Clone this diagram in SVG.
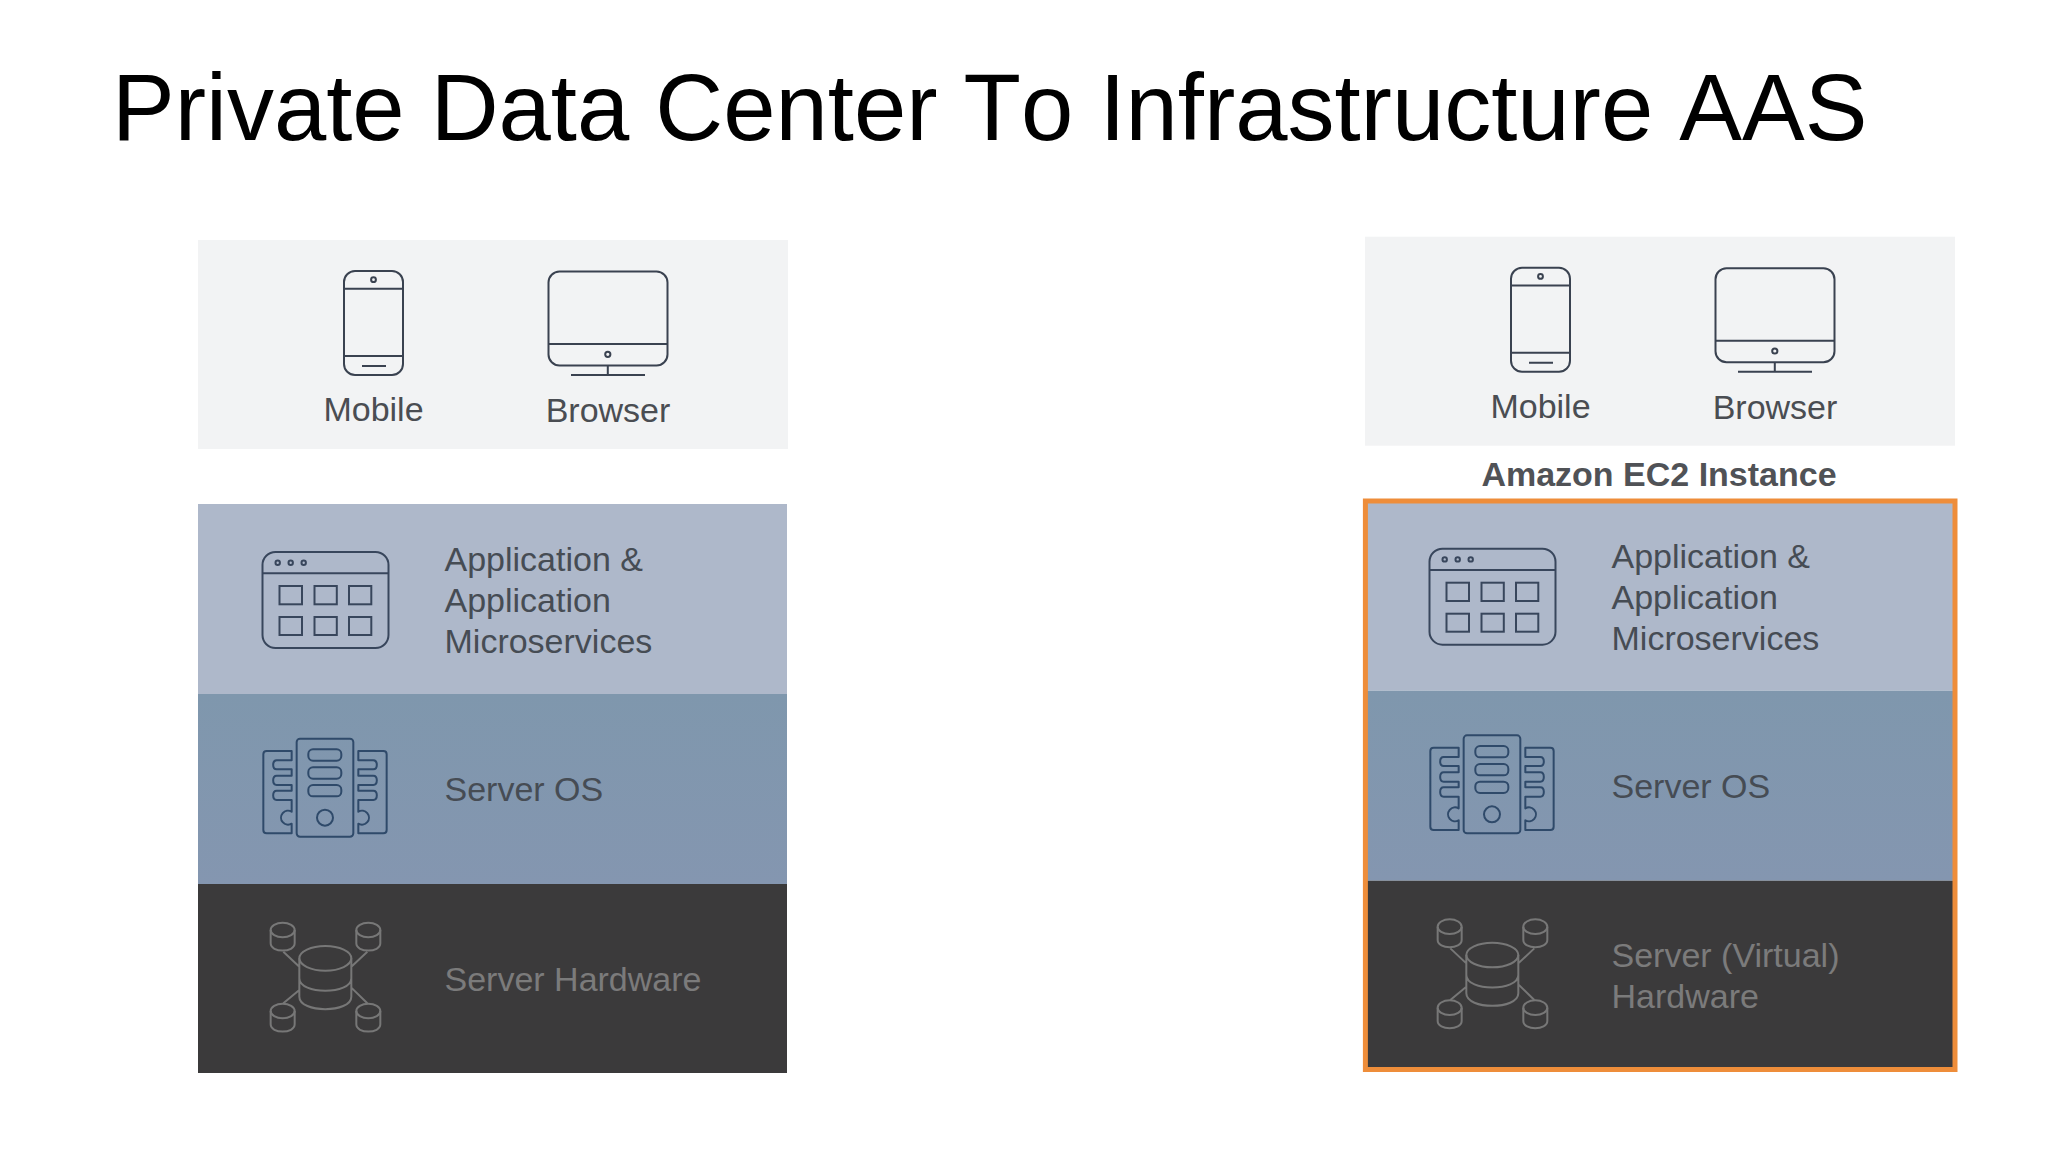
<svg xmlns="http://www.w3.org/2000/svg" width="2048" height="1152" viewBox="0 0 2048 1152">
<style>
text{font-family:"Liberation Sans",Arial,sans-serif;font-size:34px;fill:#464c54}
.title{font-size:94px;fill:#000;font-kerning:none}
.mid{text-anchor:middle;fill:#4a4d52}
.dim{fill:#7b7b7b}
.bold{font-weight:bold;fill:#505256}
.panel{fill:#f2f3f4}.l1{fill:#aeb8ca}.l2{fill:url(#g2)}.l3{fill:#3b3a3b}
.ic{fill:none;stroke:#3a4250;stroke-width:2}
.ws{fill:none;stroke:#38465c;stroke-width:2}
.sv{fill:none;stroke:#2f4a6a;stroke-width:6;stroke-linejoin:round}
.db{fill:none;stroke:#777;stroke-width:6}
</style>
<defs>
<linearGradient id="g2" x1="0" y1="0" x2="0" y2="1"><stop offset="0" stop-color="#7f97ad"/><stop offset="1" stop-color="#8496b0"/></linearGradient>
<g id="phone" class="ic"><rect x="344" y="271" width="59" height="104" rx="11"/><path d="M344 288.7H403M344 356H403M362 366H386"/><circle cx="373.5" cy="279.7" r="2.4"/></g>
<g id="monitor" class="ic"><rect x="548.5" y="271.5" width="119" height="94" rx="11"/><path d="M548.5 344H667.5M607.8 365.5V375M571 375H645"/><circle cx="607.8" cy="354.3" r="2.6"/></g>
<g id="window" class="ws"><rect x="262.5" y="552" width="126" height="96" rx="13"/><path d="M262.5 573.3H388.5"/><circle cx="277.7" cy="562.7" r="2.2"/><circle cx="290.7" cy="562.7" r="2.2"/><circle cx="303.7" cy="562.7" r="2.2"/><rect x="279.5" y="586" width="22.5" height="18.3"/><rect x="314.5" y="586" width="22.3" height="18.3"/><rect x="349" y="586" width="22.3" height="18.3"/><rect x="279.5" y="617" width="22.5" height="18"/><rect x="314.5" y="617" width="22.3" height="18"/><rect x="349" y="617" width="22.3" height="18"/></g>
<path id="sp" d="M125 63H50Q40 63 40 73V300Q40 310 50 310H125V281A21 21 0 1 1 125 245V210H80C66 210 66 182 80 182H125V165H80C66 165 66 137 80 137H125V118H80C66 118 66 91 80 91H125Z"/>
<g id="server" transform="translate(250 730) scale(.3333)" class="sv"><rect x="140" y="26" width="170" height="294" rx="10"/><rect x="175" y="58" width="99" height="34" rx="14"/><rect x="175" y="112" width="99" height="34" rx="14"/><rect x="175" y="165" width="99" height="34" rx="14"/><circle cx="225" cy="263" r="24"/><use href="#sp"/><use href="#sp" transform="matrix(-1 0 0 1 450 0)"/></g>
<g id="cyl"><ellipse cx="0" cy="0" rx="36" ry="22"/><path d="M-36 0V40C-36 69 36 69 36 40V0"/></g>
<g id="db" transform="translate(250 915) scale(.3333)" class="db"><ellipse cx="226" cy="130" rx="78" ry="37"/><path d="M148 130V245C148 295 304 295 304 245V130M148 190C148 240 304 240 304 190M100 110L148 155M352 110L304 155M148 225L100 265M304 218L352 265"/><use href="#cyl" x="98" y="45"/><use href="#cyl" x="355" y="45"/><use href="#cyl" x="98" y="288"/><use href="#cyl" x="355" y="288"/></g>
</defs>
<text id="title" class="title" x="112" y="139.5">Private Data Center To Infrastructure AAS</text>
<g id="connectors"/>
<g id="left-clients"><rect class="panel" x="198" y="240" width="590" height="209"/><use href="#phone"/><use href="#monitor"/><text class="mid" x="373.5" y="421">Mobile</text><text class="mid" x="608" y="422">Browser</text></g>
<g id="left-app"><rect class="l1" x="198" y="504" width="589" height="190"/><use href="#window"/><text x="444.5" y="571">Application &amp;</text><text x="444.5" y="612">Application</text><text x="444.5" y="653">Microservices</text></g>
<g id="left-os"><rect class="l2" x="198" y="694" width="589" height="190"/><use href="#server"/><text x="444.5" y="801">Server OS</text></g>
<g id="left-hw"><rect class="l3" x="198" y="884" width="589" height="189"/><use href="#db"/><text class="dim" x="444.5" y="991">Server Hardware</text></g>
<g id="right-clients" transform="translate(1167 -3.3)"><rect class="panel" x="198" y="240" width="590" height="209"/><use href="#phone"/><use href="#monitor"/><text class="mid" x="373.5" y="421">Mobile</text><text class="mid" x="608" y="422">Browser</text></g>
<text id="ec2-label" class="bold" x="1659" y="486" text-anchor="middle">Amazon EC2 Instance</text>
<g id="right-app" transform="translate(1167 -3.3)"><rect class="l1" x="198" y="504" width="589" height="190"/><use href="#window"/><text x="444.5" y="571">Application &amp;</text><text x="444.5" y="612">Application</text><text x="444.5" y="653">Microservices</text></g>
<g id="right-os" transform="translate(1167 -3.3)"><rect class="l2" x="198" y="694" width="589" height="190"/><use href="#server"/><text x="444.5" y="801">Server OS</text></g>
<g id="right-hw" transform="translate(1167 -3.3)"><rect class="l3" x="198" y="884" width="589" height="189"/><use href="#db"/><text class="dim" x="444.5" y="970">Server (Virtual)</text><text class="dim" x="444.5" y="1011">Hardware</text></g>
<rect id="ec2-frame" x="1365.4" y="501" width="589.6" height="568.5" fill="none" stroke="#ee8d3a" stroke-width="5"/>
</svg>
